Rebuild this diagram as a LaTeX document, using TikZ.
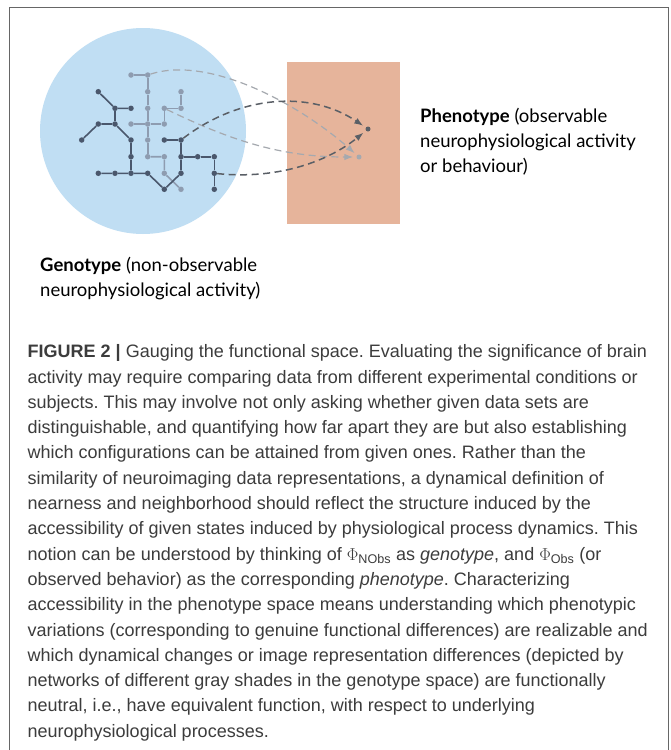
\documentclass[tikz,border=0pt]{standalone}
\usepackage{fontspec}
\setmainfont{Liberation Sans}
\newfontfamily\labelfont{Lato}
\usetikzlibrary{arrows.meta}
\definecolor{circblue}{HTML}{C0DEF3}
\definecolor{rectsalmon}{HTML}{E6B49B}
\definecolor{netdark}{HTML}{4A576C}
\definecolor{netlight}{HTML}{8E9CB0}
\definecolor{dashdark}{HTML}{5A5F66}
\definecolor{dashlight}{HTML}{A5A9AF}
\definecolor{captext}{HTML}{3C3C3C}
\definecolor{framegray}{HTML}{666666}
\frenchspacing
\begin{document}
\begin{tikzpicture}[x=1pt,y=-1pt,
  dknode/.style={circle,fill=netdark,inner sep=0pt,minimum size=5.5pt},
  ltnode/.style={circle,fill=netlight,inner sep=0pt,minimum size=5.5pt},
  dkedge/.style={draw=netdark,line width=1.6pt},
  ltedge/.style={draw=netlight,line width=1.6pt},
  dkdash/.style={draw=dashdark,line width=1.5pt,dash pattern=on 7pt off 4.5pt,shorten >=3pt,-{Latex[length=9pt,width=6.5pt]}},
  ltdash/.style={draw=dashlight,line width=1.2pt,dash pattern=on 7pt off 4.5pt,shorten >=3pt,-{Latex[length=9pt,width=6.5pt]}},
  labeltext/.style={anchor=north west,inner sep=0pt,align=left,text=black,font=\labelfont\fontsize{18.5}{25}\selectfont},
  captiontext/.style={anchor=north west,inner sep=0pt,align=left,text=captext,font=\frenchspacing\fontsize{18}{25.3}\selectfont}]
\useasboundingbox (0,0) rectangle (670,750);
\clip (0,0) rectangle (670,750);
\fill[white] (0,0) rectangle (670,750);
\draw[framegray,line width=1.2pt] (9.5,780) -- (9.5,7.5) -- (668.5,7.5) -- (668.5,780);

% genotype space and phenotype space
\node[circle,fill=circblue,inner sep=0pt,minimum size=206pt] (geno) at (143,131) {};
\node[rectangle,fill=rectsalmon,inner sep=0pt,minimum width=113pt,minimum height=162pt] (pheno) at (343.5,143) {};

% light network
\node[ltnode] (l1) at (131,75) {};
\node[ltnode] (l2) at (147.7,75) {};
\node[ltnode] (l3) at (147.7,91.7) {};
\node[ltnode] (l4) at (147.7,108.3) {};
\node[ltnode] (l5) at (147.7,124) {};
\node[ltnode] (l6) at (147.7,140) {};
\node[ltnode] (l7) at (147.7,156.7) {};
\node[ltnode] (l8) at (131,124) {};
\node[ltnode] (l9) at (164.3,124) {};
\node[ltnode] (l10) at (164.3,108.3) {};
\node[ltnode] (l11) at (181,108.3) {};
\node[ltnode] (l12) at (181,91.7) {};
\node[ltnode] (l13) at (164.3,156.7) {};
\node[ltnode] (l14) at (164.3,173.3) {};
\node[ltnode] (l15) at (181,189.3) {};
\draw[ltedge] (l1) -- (l2);
\draw[ltedge] (l2) -- (l3) -- (l4) -- (l5) -- (l6) -- (l7);
\draw[ltedge] (l8) -- (l5) -- (l9) -- (l10) -- (l11) -- (l12);
\draw[ltedge] (l7) -- (l13) -- (l14) -- (l15);

% dark network
\node[dknode] (d1) at (98.3,91.7) {};
\node[dknode] (d2) at (115,108.3) {};
\node[dknode] (d3) at (131,108.3) {};
\node[dknode] (d4) at (98.3,124) {};
\node[dknode] (d5) at (115,124) {};
\node[dknode] (d6) at (81.7,140) {};
\node[dknode] (d7) at (131,140) {};
\node[dknode] (d8) at (131,156.7) {};
\node[dknode] (d9) at (131,173.3) {};
\node[dknode] (d10) at (98.3,173.3) {};
\node[dknode] (d11) at (115,173.3) {};
\node[dknode] (d12) at (147.7,173.3) {};
\node[dknode] (d13) at (164.3,189.3) {};
\node[dknode] (d14) at (181,173.3) {};
\node[dknode] (d15) at (181,156.7) {};
\node[dknode] (d16) at (181,140) {};
\node[dknode] (d17) at (164.3,140) {};
\node[dknode] (d18) at (197.7,156.7) {};
\node[dknode] (d19) at (214.3,156.7) {};
\node[dknode] (d20) at (214.3,173.3) {};
\node[dknode] (d21) at (214.3,189.3) {};
\draw[dkedge] (d1) -- (d2) -- (d3);
\draw[dkedge] (d2) -- (d5);
\draw[dkedge] (d6) -- (d4) -- (d5) -- (d7) -- (d8) -- (d9);
\draw[dkedge] (d10) -- (d11) -- (d9) -- (d12) -- (d13) -- (d14) -- (d15) -- (d16);
\draw[dkedge] (d17) -- (d16);
\draw[dkedge] (d15) -- (d18) -- (d19) -- (d20) -- (d21);

% phenotype points
\node[circle,fill=dashdark,inner sep=0pt,minimum size=5pt] (pu) at (368,129) {};
\node[circle,fill=dashlight,inner sep=0pt,minimum size=5pt] (pl) at (359,157) {};

% mappings
\draw[ltdash] (l2) .. controls (210,55) and (300,105) .. (pl);
\draw[ltdash] (l10) .. controls (230,140) and (280,157) .. (pl);
\draw[dkdash] (d16) .. controls (240,95) and (310,90) .. (pu);
\draw[dkdash] (d20) .. controls (280,180) and (330,160) .. (pu);

% labels
\node[labeltext] (phenolabel) at (420,108) {\textbf{Phenotype} (observable\\neurophysiological activity\\or behaviour)};
\node[labeltext] (genolabel) at (40,257) {\textbf{Genotype} (non-observable\\neurophysiological activity)};

% caption
\node[captiontext] (caption) at (27.5,344.5) {\textbf{FIGURE 2 |} Gauging the functional space. Evaluating the significance of brain\\
activity may require comparing data from different experimental conditions or\\
subjects. This may involve not only asking whether given data sets are\\
distinguishable, and quantifying how far apart they are but also establishing\\
which configurations can be attained from given ones. Rather than the\\
similarity of neuroimaging data representations, a dynamical definition of\\
nearness and neighborhood should reflect the structure induced by the\\
accessibility of given states induced by physiological process dynamics. This\\
notion can be understood by thinking of $\Phi$\textsubscript{NObs} as \textit{genotype}, and $\Phi$\textsubscript{Obs} (or\\
observed behavior) as the corresponding \textit{phenotype}. Characterizing\\
accessibility in the phenotype space means understanding which phenotypic\\
variations (corresponding to genuine functional differences) are realizable and\\
which dynamical changes or image representation differences (depicted by\\
networks of different gray shades in the genotype space) are functionally\\
neutral, i.e., have equivalent function, with respect to underlying\\
neurophysiological processes.};
\end{tikzpicture}
\end{document}
